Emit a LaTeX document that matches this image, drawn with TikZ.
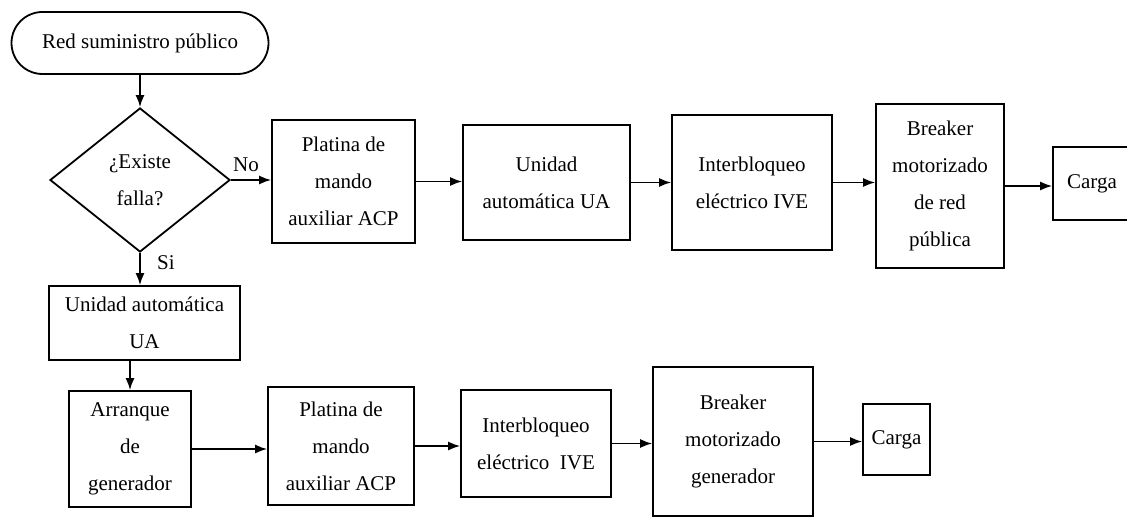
\documentclass[tikz,border=0pt]{standalone}
\usepackage{fontspec}
\setmainfont{Liberation Serif}
\usetikzlibrary{shapes.geometric,arrows.meta}

\begin{document}
\begin{tikzpicture}[x=0.5pt,y=-0.5pt,align=center,
  font=\fontsize{10.5}{18.5}\selectfont,
  caja/.style={draw,line width=0.9pt,inner sep=0pt},
  flecha/.style={-{Latex[length=6pt,width=4.5pt]},line width=0.8pt}]
\useasboundingbox (0,0) rectangle (1127,518);
% entrada y decision
\node[caja,rounded corners=15.5pt,minimum width=128.5pt,minimum height=31pt] (red) at (140,43) {Red suministro público};
\node[caja,diamond,aspect=1.25,minimum width=90pt,minimum height=72pt] (falla) at (140,180) {¿Existe\\falla?};
% rama red publica
\node[caja,minimum width=71.5pt,minimum height=61.5pt] (acpA) at (343.5,181.5) {Platina de\\mando\\auxiliar ACP};
\node[caja,minimum width=83.5pt,minimum height=57.5pt] (uaA) at (546.5,182.5) {Unidad\\automática UA};
\node[caja,minimum width=80pt,minimum height=67.5pt] (iveA) at (752,182.5) {Interbloqueo\\eléctrico IVE};
\node[caja,minimum width=64pt,minimum height=82pt] (brkA) at (940,186) {Breaker\\motorizado\\de red\\pública};
\node[caja,minimum width=39pt,minimum height=36.5pt] (cargaA) at (1092,183.5) {Carga};
% rama generador
\node[caja,minimum width=95.5pt,minimum height=37pt] (uaB) at (144.5,323) {Unidad automática\\UA};
\node[caja,minimum width=61pt,minimum height=58pt] (arr) at (130,449) {Arranque\\de\\generador};
\node[caja,minimum width=73pt,minimum height=59pt] (acpB) at (341,446) {Platina de\\mando\\auxiliar ACP};
\node[caja,minimum width=75pt,minimum height=53.5pt] (iveB) at (536,443.5) {Interbloqueo\\eléctrico~~IVE};
\node[caja,minimum width=80pt,minimum height=74.5pt] (brkB) at (733,441.5) {Breaker\\motorizado\\generador};
\node[caja,minimum width=33.5pt,minimum height=35.5pt] (cargaB) at (896.5,439.5) {Carga};
\node (no) at (246,165) {No};
\node (si) at (166,263) {Si};
% conectores
\draw[flecha] (red) -- (falla);
\draw[flecha] (falla.east) -- (falla.east -| acpA.west);
\draw[flecha] (acpA.east) -- (acpA.east -| uaA.west);
\draw[flecha] (uaA.east) -- (uaA.east -| iveA.west);
\draw[flecha] (iveA.east) -- (iveA.east -| brkA.west);
\draw[flecha] (brkA.east) -- (brkA.east -| cargaA.west);
\draw[flecha] (falla.south) -- (falla.south |- uaB.north);
\draw[flecha] (uaB.south -| arr.north) -- (arr.north);
\draw[flecha] (arr.east) -- (arr.east -| acpB.west);
\draw[flecha] (acpB.east) -- (acpB.east -| iveB.west);
\draw[flecha] (iveB.east) -- (iveB.east -| brkB.west);
\draw[flecha] (brkB.east) -- (brkB.east -| cargaB.west);
\end{tikzpicture}
\end{document}
